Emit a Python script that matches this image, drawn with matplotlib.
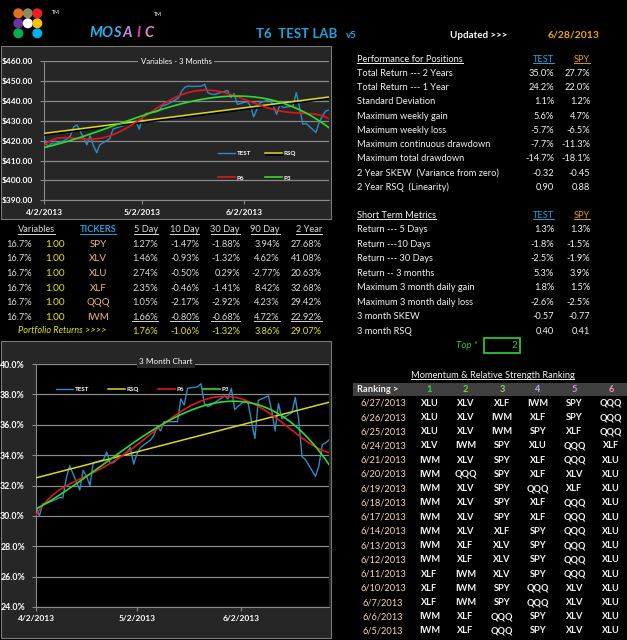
import numpy as np
import pandas as pd
import matplotlib
matplotlib.use('Agg')
import matplotlib.pyplot as plt
import matplotlib.dates as mdates
from matplotlib.patches import Rectangle, Circle
from matplotlib.ticker import FuncFormatter
from matplotlib import patheffects as pe

plt.rcParams['font.family'] = ['Lato', 'DejaVu Sans']

W, H = 627, 640

# trading days 4/2/2013 .. 6/28/2013 (market closed on memorial day)
dates = pd.bdate_range('2013-04-02', '2013-06-28')
dates = dates[dates != pd.Timestamp('2013-05-27')]

# top chart, TEST value in $
test_usd = [420.8, 417.0, 418.5, 418.3, 420.0, 421.0, 422.5, 427.0, 428.0, 418.0,
            422.5, 417.5, 414.0, 418.0, 421.0, 425.8, 426.5, 427.0, 427.5, 429.0,
            430.0, 425.8, 431.7, 433.7, 434.5, 435.0, 437.5, 438.0, 438.7, 441.5,
            445.0, 447.0, 447.5, 447.3, 447.5, 448.4, 444.2, 443.5, 443.3, 445.3,
            441.7, 443.7, 438.3, 439.7, 437.5, 432.0, 436.0, 439.2, 440.8, 437.5,
            433.3, 438.3, 436.7, 437.5, 444.2, 436.7, 428.3, 428.7, 424.2, 429.2,
            432.5, 435.0, 435.5]

# bottom chart, TEST in %
test_pct = [30.6, 30.0, 30.8, 30.8, 31.1, 31.2, 31.2, 32.5, 33.3, 31.7,
            33.0, 32.6, 32.0, 33.5, 33.7, 34.2, 33.5, 33.5, 33.7, 34.2,
            34.5, 33.4, 34.1, 34.5, 35.0, 35.3, 35.9, 35.6, 36.2, 36.2,
            36.2, 37.7, 37.3, 38.4, 38.5, 38.7, 37.4, 37.2, 37.3, 37.9,
            37.7, 38.4, 37.0, 37.6, 37.4, 36.2, 35.1, 37.6, 37.9, 36.9,
            35.6, 37.4, 36.4, 36.8, 37.8, 36.3, 33.9, 33.7, 32.6, 33.3,
            34.7, 34.8, 35.0]

# variables table
weights = ['16.7%'] * 6
units = ['1.00'] * 6
tickers = ['SPY', 'XLV', 'XLU', 'XLF', 'QQQ', 'IWM']
periods = ['5 Day', '10 Day', '30 Day', '90 Day', '2 Year']
ret_5d = [1.27, 1.46, 2.74, 2.35, 1.05, 1.66]
ret_10d = [-1.47, -0.93, -0.50, -0.46, -2.17, -0.80]
ret_30d = [-1.88, -1.32, 0.29, -1.41, -2.92, -0.68]
ret_90d = [3.94, 4.62, -2.77, 8.42, 4.23, 4.72]
ret_2y = [27.68, 41.08, 20.63, 32.68, 29.42, 22.92]
portfolio = [1.76, -1.06, -1.32, 3.86, 29.07]

# performance tables
perf_labels = ['Total Return --- 2 Years', 'Total Return --- 1 Year', 'Standard Deviation',
               'Maximum weekly gain', 'Maximum weekly loss', 'Maximum continuous drawdown',
               'Maximum total drawdown', '2 Year SKEW  (Variance from zero)',
               '2 Year RSQ  (Linearity)']
perf_test = ['35.0%', '24.2%', '1.1%', '5.6%', '-5.7%', '-7.7%', '-14.7%', '-0.32', '0.90']
perf_spy = ['27.7%', '22.0%', '1.2%', '4.7%', '-6.5%', '-11.3%', '-18.1%', '-0.45', '0.88']

short_labels = ['Return --- 5 Days', 'Return ---10 Days', 'Return --- 30 Days',
                'Return -- 3 months', 'Maximum 3 month daily gain',
                'Maximum 3 month daily loss', '3 month SKEW', '3 month RSQ']
short_test = ['1.3%', '-1.8%', '-2.5%', '5.3%', '1.8%', '-2.6%', '-0.57', '0.40']
short_spy = ['1.3%', '-1.5%', '-1.9%', '3.9%', '1.5%', '-2.5%', '-0.77', '0.41']
top_n = 2

# momentum ranking
rank_dates = ['6/27/2013', '6/26/2013', '6/25/2013', '6/24/2013', '6/21/2013', '6/20/2013',
              '6/19/2013', '6/18/2013', '6/17/2013', '6/14/2013', '6/13/2013', '6/12/2013',
              '6/11/2013', '6/10/2013', '6/7/2013', '6/6/2013', '6/5/2013']
rankings = [
    ['XLU', 'XLV', 'XLF', 'IWM', 'SPY', 'QQQ'],
    ['XLU', 'XLV', 'IWM', 'XLF', 'SPY', 'QQQ'],
    ['XLU', 'XLV', 'IWM', 'SPY', 'XLF', 'QQQ'],
    ['XLV', 'IWM', 'SPY', 'XLU', 'QQQ', 'XLF'],
    ['IWM', 'XLV', 'SPY', 'XLF', 'QQQ', 'XLU'],
    ['IWM', 'QQQ', 'SPY', 'XLF', 'XLV', 'XLU'],
    ['IWM', 'XLV', 'SPY', 'QQQ', 'XLF', 'XLU'],
    ['IWM', 'XLV', 'SPY', 'XLF', 'QQQ', 'XLU'],
    ['IWM', 'XLV', 'SPY', 'XLF', 'QQQ', 'XLU'],
    ['IWM', 'XLV', 'XLF', 'SPY', 'QQQ', 'XLU'],
    ['IWM', 'XLF', 'XLV', 'SPY', 'QQQ', 'XLU'],
    ['IWM', 'XLF', 'XLV', 'SPY', 'QQQ', 'XLU'],
    ['XLF', 'IWM', 'XLV', 'SPY', 'QQQ', 'XLU'],
    ['XLF', 'IWM', 'SPY', 'QQQ', 'XLV', 'XLU'],
    ['XLF', 'IWM', 'SPY', 'QQQ', 'XLV', 'XLU'],
    ['IWM', 'XLF', 'QQQ', 'SPY', 'XLV', 'XLU'],
    ['IWM', 'XLF', 'QQQ', 'SPY', 'XLV', 'XLU'],
]
rank_colors = ['#3fd33f', '#6fd63a', '#9ccc6a', '#c2b4e6', '#d894d4', '#f290b4']

# colours
C_TEST, C_RSQ, C_P6, C_P3 = '#2b8dc6', '#d8d81c', '#e3161b', '#2ddc2d'
C_BLUE, C_GOLD, C_YEL = '#1fa3df', '#e0a000', '#e6e600'
C_TXT, C_GRAY = '#f2f2f2', '#d9d9d9'
FS = 6.7

fig = plt.figure(figsize=(W / 100, H / 100), dpi=100, facecolor='black')
bg = fig.add_axes([0, 0, 1, 1], zorder=0)
bg.set_xlim(0, W)
bg.set_ylim(H, 0)
bg.axis('off')

underlined = []


def txt(x, y, s, ha='left', color=C_TXT, size=FS, ul=False, **kw):
    t = bg.text(x, y, s, ha=ha, va='center', color=color, fontsize=size, **kw)
    if ul:
        underlined.append(t)
    return t


def px_axes(x0, y0, x1, y1):
    return fig.add_axes([x0 / W, 1 - y1 / H, (x1 - x0) / W, (y1 - y0) / H], zorder=2)


# ---- header ----
logo = ['#e2711d', '#8c8a5e', '#ee1c25', '#7030a0', '#ffffff', '#ffc000', '#00b050', None, '#00b0f0']
for i, c in enumerate(logo):
    if c:
        bg.add_patch(Circle((18.3 + 9.5 * (i % 3), 13.3 + 10 * (i // 3)), 4.3, color=c))
txt(52, 12, 'TM', size=3.8, color='white')
for i, (ch, c) in enumerate(zip('MOSAIC', ['#1fb5ef', '#29aee8', '#4fa6e6', '#c88ad8', '#e43fa8', '#e58ad2'])):
    txt(96 + 10.6 * i, 33, ch, ha='center', color=c, size=10.5, fontweight='bold', fontstyle='italic')
txt(154, 14, 'TM', size=3.8, color='white')
txt(256, 34.5, 'T6  TEST LAB', color=C_BLUE, size=9.5, fontweight='bold')
txt(346, 35.5, 'v5', color=C_BLUE, size=7, fontweight='bold')
txt(450, 35, 'Updated >>>', color='white', size=7, fontweight='bold')
txt(599, 35, '6/28/2013', ha='right', color='#f0a800', size=7.5, fontweight='bold')

# ---- charts ----
xnum = mdates.date2num(dates.to_pydatetime())


def trends(y):
    t = (xnum - xnum[0]) / (xnum[-1] - xnum[0])
    grid = np.linspace(0, 1, 200)
    xg = xnum[0] + grid * (xnum[-1] - xnum[0])
    return xg, [np.polyval(np.polyfit(t, y, k), grid) for k in (1, 6, 3)]


def draw_chart(ax, y, face, shadow):
    ax.set_facecolor(face)
    xg, (rsq, p6, p3) = trends(np.array(y))
    l_test, = ax.plot(xnum, y, color=C_TEST, lw=1.0, label='TEST', zorder=3)
    eff = [pe.SimpleLineShadow(offset=(0.6, -1.2), shadow_color='black', alpha=1.0), pe.Normal()] if shadow else None
    l_rsq, = ax.plot(xg, rsq, color=C_RSQ, lw=1.1, label='RSQ', zorder=4, path_effects=eff)
    l_p6, = ax.plot(xg, p6, color=C_P6, lw=1.2, label='P6', zorder=5)
    l_p3, = ax.plot(xg, p3, color=C_P3, lw=1.2, label='P3', zorder=6)
    ax.set_xlim(xnum[0], xnum[-1])
    ax.set_xticks(mdates.date2num(pd.to_datetime(['2013-04-02', '2013-05-02', '2013-06-02']).to_pydatetime()))
    ax.xaxis.set_major_formatter(FuncFormatter(
        lambda v, p: '{0.month}/{0.day}/{0.year}'.format(mdates.num2date(v))))
    ax.yaxis.grid(True, color='#8a8a8a', lw=0.9)
    ax.set_axisbelow(True)
    for s in ('top', 'right'):
        ax.spines[s].set_visible(False)
    for s in ('left', 'bottom'):
        ax.spines[s].set_color('#8a8a8a')
    ax.tick_params(colors='#8a8a8a', labelcolor='white', length=3, width=0.8)
    ax.tick_params(axis='y', labelsize=6.0, pad=5)
    ax.tick_params(axis='x', labelsize=6.0, pad=3)
    return l_test, l_rsq, l_p6, l_p3


# top chart: Variables - 3 Months
bg.add_patch(Rectangle((1, 46), 330, 173, fc='#262626', ec='#7a7a7a', lw=0.8))
ax1 = px_axes(44.3, 61.3, 329, 200.3)
h1 = draw_chart(ax1, test_usd, '#262626', True)
ax1.set_ylim(390, 460)
ax1.set_yticks(np.arange(390, 461, 10))
ax1.yaxis.set_major_formatter(FuncFormatter(lambda v, p: '${:.2f}'.format(v)))
for lbl in ax1.get_xticklabels() + ax1.get_yticklabels():
    lbl.set_fontweight('bold')
ax1.text(176, 61, 'Variables - 3 Months', transform=bg.transData, ha='center', va='center',
         color='white', fontsize=5.6, bbox=dict(fc='#262626', ec='none', pad=1.5), zorder=10)
ax1.legend([h1[0], h1[2], h1[1], h1[3]], ['TEST', 'P6', 'RSQ', 'P3'], ncol=2, loc='upper left',
           bbox_to_anchor=(218, 151), bbox_transform=bg.transData, frameon=False,
           prop=dict(size=4.5, weight='bold'), labelcolor='white', handlelength=2.7,
           handletextpad=0.3, columnspacing=2.2, labelspacing=3.0, borderpad=0, borderaxespad=0)

# bottom chart: 3 Month Chart
bg.add_patch(Rectangle((1, 341), 330, 297, fc='#262626', ec='#7a7a7a', lw=0.8))
ax2 = px_axes(36, 364, 329, 607)
h2 = draw_chart(ax2, test_pct, 'black', False)
ax2.set_ylim(24, 40)
ax2.set_yticks(np.arange(24, 41, 2))
ax2.yaxis.set_major_formatter(FuncFormatter(lambda v, p: '{:.1f}%'.format(v)))
ax2.tick_params(axis='y', labelsize=6.3)
for lbl in ax2.get_xticklabels() + ax2.get_yticklabels():
    lbl.set_fontweight('bold')
ax2.text(166, 362, '3 Month Chart', transform=bg.transData, ha='center', va='center',
         color='white', fontsize=5.9, bbox=dict(fc='#262626', ec='none', pad=1.5), zorder=10)
ax2.legend(h2, ['TEST', 'RSQ', 'P6', 'P3'], ncol=4, loc='upper left',
           bbox_to_anchor=(56, 387), bbox_transform=bg.transData, frameon=False,
           prop=dict(size=4.5, weight='bold'), labelcolor='white', handlelength=2.7,
           handletextpad=0.3, columnspacing=3.0, borderpad=0, borderaxespad=0)

# ---- variables table ----
col_right = [158, 199, 240, 280, 322]
txt(18, 230, 'Variables', color=C_GRAY, ul=True)
txt(98, 230, 'TICKERS', ha='center', color=C_BLUE, ul=True, fontweight='bold')
for x, p in zip(col_right, periods):
    txt(x, 230, p, ha='right', color=C_GRAY, ul=True)
cols = [ret_5d, ret_10d, ret_30d, ret_90d, ret_2y]
for i in range(len(tickers)):
    y = 244.3 + 14.6 * i
    txt(32, y, weights[i], ha='right', color=C_GRAY)
    txt(55.5, y, units[i], ha='center', color=C_YEL, size=7.2)
    txt(98, y, tickers[i], ha='center', color='#f4b183', size=7)
    for x, c in zip(col_right, cols):
        txt(x, y, '{:.2f}%'.format(c[i]), ha='right', color=C_GRAY, ul=(i == len(tickers) - 1))
txt(18, 331, 'Portfolio Returns >>>>', color=C_YEL, fontstyle='italic')
for x, v in zip(col_right, portfolio):
    txt(x, 331, '{:.2f}%'.format(v), ha='right', color=C_YEL)

# ---- performance tables ----
txt(357, 59, 'Performance for Positions', ul=True)
txt(554, 59, 'TEST', ha='right', color=C_BLUE, ul=True)
txt(590, 59, 'SPY', ha='right', color=C_GOLD, ul=True)
for i, lab in enumerate(perf_labels):
    y = 73.3 + 14.25 * i
    txt(357, y, lab)
    txt(554, y, perf_test[i], ha='right')
    txt(590, y, perf_spy[i], ha='right')

txt(357, 215.7, 'Short Term Metrics', ul=True)
txt(554, 215.7, 'TEST', ha='right', color=C_BLUE, ul=True)
txt(590, 215.7, 'SPY', ha='right', color=C_GOLD, ul=True)
for i, lab in enumerate(short_labels):
    y = 230 + 14.45 * i
    txt(357, y, lab)
    txt(554, y, short_test[i], ha='right')
    txt(590, y, short_spy[i], ha='right')

txt(478, 345.5, 'Top *', ha='right', color='#3cbf3c', fontstyle='italic', size=7)
bg.add_patch(Rectangle((484, 337.7), 36, 15.6, fc='none', ec='#2ec42e', lw=1.3))
txt(517, 345.5, str(top_n), ha='right', color='#3cbf3c', size=7)

# ---- momentum ranking ----
txt(492.5, 375, 'Momentum & Relative Strength Ranking', ha='center', ul=True)
bg.add_patch(Rectangle((353, 383.3), 274, 12.4, fc='#404040', ec='none'))
txt(357, 389.5, 'Ranking >', fontweight='bold')
rank_x = [429.5, 465.5, 502, 538, 574.5, 611]
for j, (x, c) in enumerate(zip(rank_x, rank_colors)):
    txt(x, 389.5, str(j + 1), ha='center', color=c, fontweight='bold')
for i, (d, row) in enumerate(zip(rank_dates, rankings)):
    y = 403.3 + 14.23 * i
    txt(383, y, d, ha='center', color='#fbd5b5')
    for x, tk in zip(rank_x, row):
        txt(x, y, tk, ha='center', fontweight='bold')

# underlines under header cells
fig.canvas.draw()
rend = fig.canvas.get_renderer()
inv = bg.transData.inverted()
for t in underlined:
    bb = t.get_window_extent(rend)
    (x0, y0), (x1, y1) = inv.transform([[bb.x0, bb.y0], [bb.x1, bb.y1]])
    bg.plot([x0, x1], [max(y0, y1) - 0.8] * 2, color=t.get_color(), lw=0.7)

fig.savefig('out.png', dpi=100, facecolor='black')
